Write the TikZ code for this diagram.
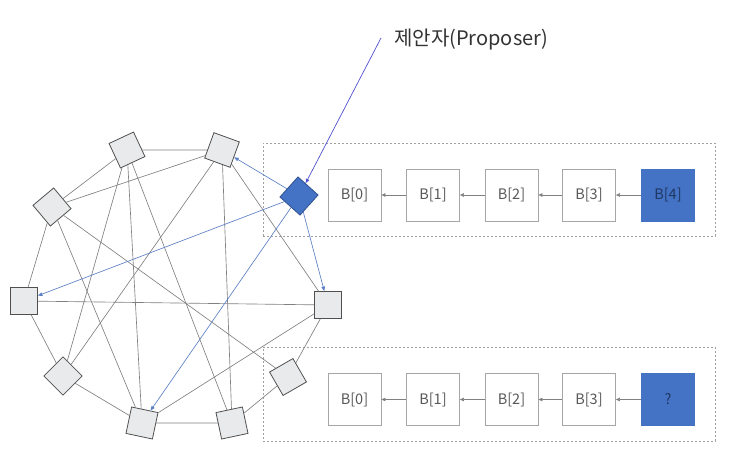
\documentclass[tikz,border=0pt]{standalone}
\usepackage{fontspec}
\setmainfont{Noto Sans CJK KR}
\usetikzlibrary{arrows.meta}
\definecolor{peerfill}{HTML}{E8EAEB}
\definecolor{peerdraw}{HTML}{505050}
\definecolor{edgegray}{HTML}{808080}
\definecolor{pblue}{HTML}{4472C4}
\definecolor{pbluedark}{HTML}{2F528F}
\definecolor{arrblue}{HTML}{5B7FC4}
\definecolor{lblblue}{HTML}{5050D0}
\definecolor{blkdraw}{HTML}{A6A6A6}
\definecolor{blktext}{HTML}{595959}
\definecolor{navytext}{HTML}{1F3864}
\definecolor{dashgray}{HTML}{A0A0A0}
\begin{document}
\begin{tikzpicture}[x=1pt,y=-1pt,
  peer/.style={draw=peerdraw, fill=peerfill, line width=0.8pt, minimum size=27pt, inner sep=0pt},
  proposer/.style={draw=pbluedark, fill=pblue, line width=0.8pt, minimum size=27pt, inner sep=0pt},
  link/.style={draw=edgegray, line width=0.65pt},
  barrow/.style={draw=arrblue, line width=0.65pt, -{Triangle[length=4.5pt,width=3.5pt]}},
  larrow/.style={draw=lblblue, line width=0.7pt, -{Triangle[length=4.5pt,width=3.5pt]}},
  garrow/.style={draw=edgegray, line width=0.6pt, -{Triangle[length=4pt,width=3.5pt]}},
  blk/.style={draw=blkdraw, fill=white, line width=0.8pt, minimum width=53pt, minimum height=52pt, inner sep=0pt, text=blktext, font=\fontsize{14.5}{17}\selectfont},
  blkb/.style={draw=pblue, fill=pblue, line width=0.8pt, minimum width=53pt, minimum height=52pt, inner sep=0pt, text=navytext, font=\fontsize{14.5}{17}\selectfont},
  dbox/.style={draw=dashgray, line width=0.7pt, dash pattern=on 2pt off 2pt, inner sep=0pt}
]
\useasboundingbox (0,0) rectangle (732,474);

% dashed frames
\node[dbox, minimum width=452pt, minimum height=93pt] (frame1) at (489,189.5) {};
\node[dbox, minimum width=452pt, minimum height=94pt] (frame2) at (489,394) {};

% peers
\node[peer, rotate=25]  (n1)  at (127,150) {};
\node[peer, rotate=-20] (n2)  at (222,150) {};
\node[proposer, rotate=-42] (p) at (299,196) {};
\node[peer]             (n4)  at (328,305) {};
\node[peer, rotate=30]  (n5)  at (288,377) {};
\node[peer, rotate=12]  (n6)  at (232,423) {};
\node[peer, rotate=-12] (n7)  at (142,423) {};
\node[peer, rotate=45]  (n8)  at (63,376) {};
\node[peer]             (n9)  at (24,301) {};
\node[peer, rotate=40]  (n10) at (52,207) {};

% ring
\draw[link] (n1) -- (n2);
\draw[link] (n1) -- (n10);
\draw[link] (n10) -- (n9);
\draw[link] (n9) -- (n8);
\draw[link] (n8) -- (n7);
\draw[link] (n7) -- (n6);
\draw[link] (n6) -- (n5);
\draw[link] (n5) -- (n4);
% chords
\draw[link] (n10) -- (n2);
\draw[link] (n10) -- (n5);
\draw[link] (n10) -- (n7);
\draw[link] (n1) -- (n8);
\draw[link] (n1) -- (n7);
\draw[link] (n1) -- (n6);
\draw[link] (n2) -- (n8);
\draw[link] (n2) -- (n6);
\draw[link] (n2) -- (n4);
\draw[link] (n4) -- (n9);
\draw[link] (n4) -- (n7);
% proposer broadcasts
\draw[barrow] (p) -- (n2);
\draw[barrow] (p) -- (n4);
\draw[barrow] (p) -- (n9);
\draw[barrow] (p) -- (n7);

% label
\node[font=\fontsize{20}{24}\selectfont, text=black!80, anchor=west, inner sep=0pt] (lbl) at (394,40) {제안자(Proposer)};
\coordinate (ls) at (381,38);
\draw[larrow] (ls) -- (p);

% chain 1
\node[blk]  (a0) at (354.5,195) {B[0]};
\node[blk]  (a1) at (433,195) {B[1]};
\node[blk]  (a2) at (511.5,195) {B[2]};
\node[blk]  (a3) at (589,195) {B[3]};
\node[blkb] (a4) at (668,195) {B[4]};
\draw[garrow] (a1) -- (a0);
\draw[garrow] (a2) -- (a1);
\draw[garrow] (a3) -- (a2);
\draw[garrow] (a4) -- (a3);

% chain 2
\node[blk]  (b0) at (354.5,399.5) {B[0]};
\node[blk]  (b1) at (433,399.5) {B[1]};
\node[blk]  (b2) at (511.5,399.5) {B[2]};
\node[blk]  (b3) at (589,399.5) {B[3]};
\node[blkb] (b4) at (668,399.5) {?};
\draw[garrow] (b1) -- (b0);
\draw[garrow] (b2) -- (b1);
\draw[garrow] (b3) -- (b2);
\draw[garrow] (b4) -- (b3);
\end{tikzpicture}
\end{document}
